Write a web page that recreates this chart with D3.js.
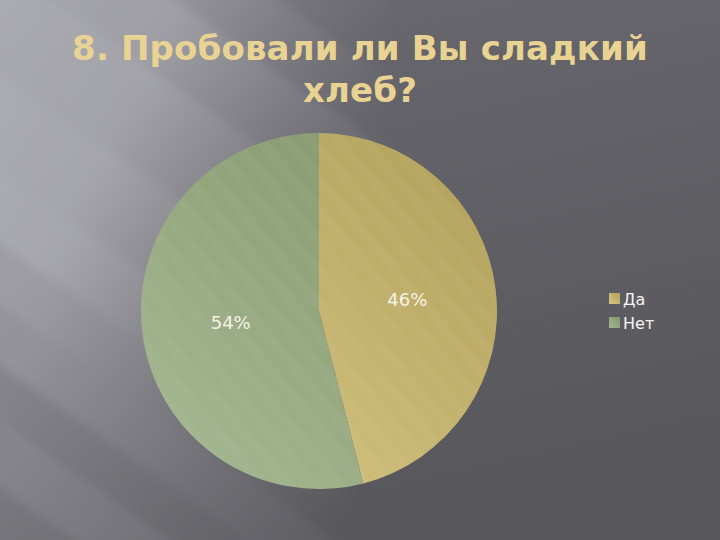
<!DOCTYPE html>
<html><head><meta charset="utf-8">
<script src="https://cdn.jsdelivr.net/npm/d3@7"></script>
<style>html,body{margin:0;padding:0;background:#5d5c61;}svg{display:block;}</style>
</head><body>
<script>
const categories = ["Да", "Нет"];
const values = [46, 54];
const labels = ["46%", "54%"];
const titleLines = ["8. Пробовали ли Вы сладкий", "хлеб?"];

const W = 720, H = 540;
const svg = d3.select("body").append("svg").attr("width", W).attr("height", H);
const defs = svg.append("defs");

// background base
const bg = defs.append("linearGradient").attr("id","bg").attr("x1","0").attr("y1","0").attr("x2","0.3").attr("y2","1");
bg.append("stop").attr("offset","0").attr("stop-color","#6a696f");
bg.append("stop").attr("offset","1").attr("stop-color","#58575c");
svg.append("rect").attr("width",W).attr("height",H).attr("fill","url(#bg)");

// light beams (decoration), direction ~35deg down-right
const ca = Math.cos(35*Math.PI/180), sa = Math.sin(35*Math.PI/180);
const P = (u,v) => [u*ca - v*sa, u*sa + v*ca];
const blur = defs.append("filter").attr("id","blur").attr("filterUnits","userSpaceOnUse")
  .attr("x",-50).attr("y",-50).attr("width",W+100).attr("height",H+100);
blur.append("feGaussianBlur").attr("stdDeviation", 5);
// [v0, v1, fade length, opacity]
const beams = [
  [-300, -220, 300, 0.30],
  [-220, -160, 340, 0.45],
  [-160, -100, 380, 0.55],
  [-100, -30, 430, 0.65],
  [-30, 60, 470, 0.70],
  [60, 140, 500, 0.74],
  [140, 200, 540, 0.76],
  [200, 250, 580, 0.64],
  [250, 300, 640, 0.56],
  [300, 345, 660, 0.40],
  [345, 400, 760, 0.44],
  [400, 470, 820, 0.30],
  [470, 560, 860, 0.18]
];
beams.forEach((d,i) => {
  const a = P(0,d[0]), b = P(d[2],d[0]);
  const g = defs.append("linearGradient").attr("id","beam"+i).attr("gradientUnits","userSpaceOnUse")
    .attr("x1",a[0]).attr("y1",a[1]).attr("x2",b[0]).attr("y2",b[1]);
  g.append("stop").attr("offset","0").attr("stop-color","#c6c6ce").attr("stop-opacity",1);
  g.append("stop").attr("offset","0.35").attr("stop-color","#c6c6ce").attr("stop-opacity",0.9);
  g.append("stop").attr("offset","0.7").attr("stop-color","#c6c6ce").attr("stop-opacity",0.35);
  g.append("stop").attr("offset","1").attr("stop-color","#c6c6ce").attr("stop-opacity",0);
});
svg.append("g").attr("filter","url(#blur)")
  .selectAll("path").data(beams).join("path")
  .attr("d", d => "M" + [P(-500,d[0]), P(d[2]+20,d[0]), P(d[2]+20,d[1]), P(-500,d[1])].join("L") + "Z")
  .attr("fill",(d,i) => `url(#beam${i})`).attr("opacity", d => d[3]);

// title
svg.append("g").selectAll("text").data(titleLines).join("text")
  .attr("x", 360).attr("y", (d,i) => 60 + i*42)
  .attr("text-anchor","middle")
  .attr("font-family","DejaVu Sans").attr("font-weight","bold")
  .attr("font-size", 34).attr("letter-spacing", 0.15)
  .attr("fill","#e8d393").text(d => d);

// pie
const cx = 319, cy = 311, R = 178;
const colorStops = {
  "Да": ["#d8c684", "#b2a25d"],
  "Нет": ["#a4b690", "#84956c"]
};
categories.forEach((c,i) => {
  const g = defs.append("linearGradient").attr("id","g"+i).attr("gradientUnits","userSpaceOnUse")
    .attr("x1", cx - R*0.8).attr("y1", cy + R*0.8).attr("x2", cx + R*0.8).attr("y2", cy - R*0.8);
  g.append("stop").attr("offset","0").attr("stop-color", colorStops[c][0]);
  g.append("stop").attr("offset","1").attr("stop-color", colorStops[c][1]);
});
const stripes = defs.append("pattern").attr("id","stripes").attr("patternUnits","userSpaceOnUse")
  .attr("width", 20).attr("height", 20).attr("patternTransform","rotate(-40)");
stripes.append("rect").attr("width", 10).attr("height", 20).attr("fill","#ffffff").attr("opacity",0.025);

const pie = d3.pie().sort(null).value(d => d)(values);
const arc = d3.arc().innerRadius(0).outerRadius(R);
const gp = svg.append("g").attr("transform", `translate(${cx},${cy})`);
gp.selectAll("path.s").data(pie).join("path").attr("class","s")
  .attr("d", arc).attr("fill", (d,i) => `url(#g${i})`);
gp.selectAll("path.t").data(pie).join("path").attr("class","t")
  .attr("d", arc).attr("fill", "url(#stripes)");
gp.selectAll("text").data(pie).join("text")
  .attr("transform", d => { const a=(d.startAngle+d.endAngle)/2; return `translate(${Math.sin(a)*R*0.5},${-Math.cos(a)*R*0.5})`; })
  .attr("text-anchor","middle").attr("dy","0.36em")
  .attr("font-family","DejaVu Sans").attr("font-size", 18)
  .attr("fill","#f6f2e4").text((d,i) => labels[i]);

// legend
categories.forEach((c,i)=>{
  const g = defs.append("linearGradient").attr("id","lg"+i).attr("x1","0").attr("y1","1").attr("x2","1").attr("y2","0");
  g.append("stop").attr("offset","0").attr("stop-color", colorStops[c][0]);
  g.append("stop").attr("offset","1").attr("stop-color", colorStops[c][1]);
});
const lg = svg.append("g").attr("transform","translate(609,293)");
const items = lg.selectAll("g").data(categories).join("g").attr("transform",(d,i)=>`translate(0,${i*24})`);
items.append("rect").attr("width",11).attr("height",11).attr("fill",(d,i)=>`url(#lg${i})`);
items.append("text").attr("x",14).attr("y",11.5).attr("font-family","DejaVu Sans").attr("font-size",16)
  .attr("fill","#f4f4f4").text(d=>d);
</script>
</body></html>
